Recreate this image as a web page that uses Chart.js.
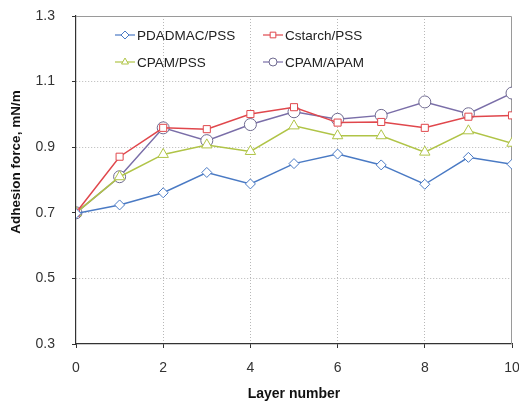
<!DOCTYPE html>
<html lang="en">
<head>
    <meta charset="UTF-8">
    <title>Adhesion force</title>
    <style>
        html, body { margin: 0; padding: 0; background: #fff; }
        #wrap { width: 519px; height: 411px; }
    </style>
</head>
<body>
<div id="wrap"><canvas id="chart" width="519" height="411"></canvas></div>
<script src="https://cdn.jsdelivr.net/npm/chart.js@4.4.1/dist/chart.umd.min.js"></script>
<script>
// data
var layers = [0, 1, 2, 3, 4, 5, 6, 7, 8, 9, 10]
var pdadmac = [0.698, 0.724, 0.761, 0.823, 0.788, 0.850, 0.879, 0.846, 0.787, 0.869, 0.848]
var cstarch = [0.700, 0.871, 0.959, 0.955, 1.001, 1.022, 0.975, 0.977, 0.959, 0.993, 0.997]
var cpamPss = [0.700, 0.810, 0.878, 0.907, 0.887, 0.965, 0.935, 0.935, 0.885, 0.950, 0.912]
var cpamApam = [0.700, 0.810, 0.959, 0.920, 0.969, 1.008, 0.985, 0.997, 1.038, 1.002, 1.065]
var seriesNames = ["PDADMAC/PSS", "Cstarch/PSS", "CPAM/PSS", "CPAM/APAM"]
var yTicks = [0.3, 0.5, 0.7, 0.9, 1.1, 1.3]
var xTicks = [0, 2, 4, 6, 8, 10]
var yTitle = "Adhesion force, mN/m"
var xTitle = "Layer number"

var FONT = "'Liberation Sans', Arial, sans-serif"

function pts(vals) {
    return vals.map(function (v, i) { return { x: layers[i], y: v } })
}

function series(name, vals, color, marker, radius, border) {
    return {
        label: name,
        data: pts(vals),
        borderColor: color,
        borderWidth: 1.5,
        pointStyle: marker,
        pointRadius: radius,
        pointBackgroundColor: "#ffffff",
        pointBorderColor: border || color,
        pointBorderWidth: 1,
        tension: 0
    }
}

// legend drawn as line + marker, two columns inside the plot
var lineLegend = {
    id: "lineLegend",
    afterDatasetsDraw: function (chart) {
        var c = chart.ctx
        var cols = [115, 263]
        var rows = [35, 62]
        c.save()
        c.font = "13.5px " + FONT
        c.textBaseline = "middle"
        chart.data.datasets.forEach(function (ds, i) {
            var x = cols[i % 2], y = rows[Math.floor(i / 2)]
            c.strokeStyle = ds.borderColor
            c.lineWidth = 1.2
            c.beginPath()
            c.moveTo(x, y)
            c.lineTo(x + 20, y)
            c.stroke()
            c.fillStyle = "#fff"
            c.strokeStyle = ds.pointBorderColor
            c.lineWidth = 1
            Chart.helpers.drawPoint(c, { pointStyle: ds.pointStyle, radius: 4, borderWidth: 1, rotation: 0 }, x + 10, y)
            c.fillStyle = "#222"
            c.fillText(ds.label, x + 22, y + 1)
        })
        c.restore()
    }
}

// grey frame on top / right of the plot, y title sits a bit above centre
var frame = {
    id: "frame",
    beforeDatasetsDraw: function (chart) {
        var a = chart.chartArea, c = chart.ctx
        c.save()
        c.strokeStyle = "#9a9a9a"
        c.lineWidth = 1
        c.beginPath()
        c.moveTo(a.left, a.top + 0.5)
        c.lineTo(a.right - 0.5, a.top + 0.5)
        c.lineTo(a.right - 0.5, a.bottom)
        c.stroke()
        c.restore()
    },
    afterDraw: function (chart) {
        var c = chart.ctx
        c.save()
        c.translate(16, 162)
        c.rotate(-Math.PI / 2)
        c.font = "bold 13.5px " + FONT
        c.fillStyle = "#111"
        c.textAlign = "center"
        c.textBaseline = "middle"
        c.fillText(yTitle, 0, 0)
        c.restore()
    }
}

function gridColor(ends) {
    return function (c) {
        return (c.tick && ends.indexOf(c.tick.value) >= 0) ? "rgba(0,0,0,0)" : "#b8b8b8"
    }
}

var ctx = document.getElementById("chart")
var chart = new Chart(ctx, {
    type: "line",
    data: {
        datasets: [
            series(seriesNames[0], pdadmac, "#4a7ac4", "rectRot", 5),
            series(seriesNames[1], cstarch, "#e0474c", "rect", 5),
            series(seriesNames[2], cpamPss, "#b0c447", "triangle", 6),
            series(seriesNames[3], cpamApam, "#7a6ea8", "circle", 6, "#6f6a90")
        ]
    },
    options: {
        responsive: false,
        animation: false,
        layout: { padding: { top: 16, right: 7, left: 0, bottom: 0 } },
        plugins: { legend: { display: false }, tooltip: { enabled: false } },
        scales: {
            x: {
                type: "linear",
                min: 0, max: 10,
                afterBuildTicks: function (s) { s.ticks = xTicks.map(function (v) { return { value: v } }) },
                afterFit: function (s) { s.height = 67; s.paddingRight = 0; s.paddingLeft = 0 },
                ticks: { color: "#333", font: { family: FONT, size: 14 }, padding: 12 },
                grid: { color: gridColor([0, 10]), tickLength: 4, tickColor: "#333" },
                border: { color: "#333", width: 1.2, dash: [1, 2] },
                title: { display: true, text: xTitle, color: "#111", font: { family: FONT, size: 14, weight: "bold" }, padding: { top: 0, bottom: 8 } }
            },
            y: {
                min: 0.3, max: 1.3,
                afterBuildTicks: function (s) { s.ticks = yTicks.map(function (v) { return { value: v } }) },
                afterFit: function (s) { s.width = 76; s.paddingTop = 0; s.paddingBottom = 0 },
                ticks: { color: "#333", font: { family: FONT, size: 14 }, padding: 17, callback: function (v) { return v.toFixed(1) } },
                grid: { color: gridColor([0.3, 1.3]), tickLength: 4, tickColor: "#333" },
                border: { color: "#333", width: 1.2, dash: [1, 2] }
            }
        }
    },
    plugins: [frame, lineLegend]
})
</script>
</body>
</html>
